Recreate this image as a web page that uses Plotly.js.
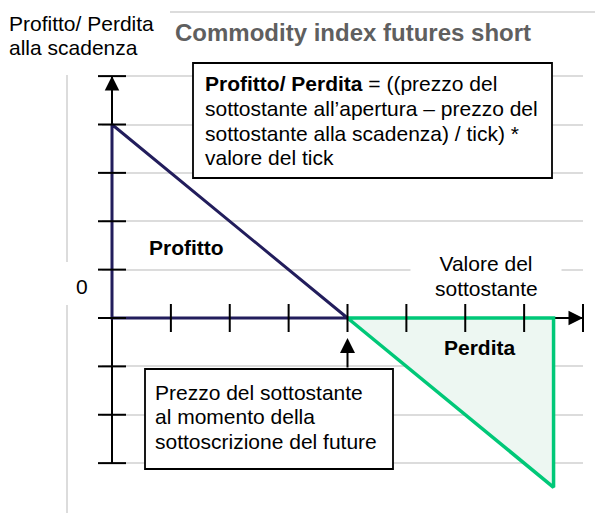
<!DOCTYPE html>
<html>
<head>
<meta charset="utf-8">
<script src="https://cdn.plot.ly/plotly-3.0.1.min.js"></script>
<style>html,body{margin:0;padding:0;background:#fff;}#chart{width:595px;height:513px;}</style>
</head>
<body>
<div id="chart"></div>
<script>
// ---- data ----
const axisX = [0, 8];
const axisY = [-3, 5];
const xTicks = [1, 2, 3, 4, 5, 6, 7, 8];
const yTicks = [-3, -2, -1, 0, 1, 2, 3, 4, 5];
const profitX = [4, 0, 0, 4];
const profitY = [0, 0, 4, 0];
const lossX = [4, 7.5, 7.5, 4];
const lossY = [0, 0, -3.5, 0];
const strikePrice = 4;
const titleText = "Commodity index futures short";
const yTitleLines = ["Profitto/ Perdita", "alla scadenza"];
const xTitleLines = ["Valore del", "sottostante"];
const formulaLines = ["<b>Profitto/ Perdita</b> = ((prezzo del", "sottostante all\u2019apertura \u2013 prezzo del", "sottostante alla scadenza) / tick) *", "valore del tick"];
const strikeLines = ["Prezzo del sottostante", "al momento della", "sottoscrizione del future"];
const profitLabel = "Profitto";
const lossLabel = "Perdita";
const zeroLabel = "0";

// ---- layout geometry ----
const W = 595, H = 513;
const M = {l: 102, r: 12, t: 70, b: 0};
const pw = W - M.l - M.r, ph = H - M.t - M.b;
const xPx0 = 112, xUnit = 58.875, yPx0 = 318, yUnit = 48.375;
const xRange = [(M.l - xPx0) / xUnit, (W - M.r - xPx0) / xUnit];
const yRange = [(yPx0 - (H - M.b)) / yUnit, (yPx0 - M.t) / yUnit];
const px = v => (v - M.l) / pw;
const py = v => (H - M.b - v) / ph;

const FONT = 'Arial, "Liberation Sans", sans-serif';
const black = '#000000';

const traces = [
  {x: [axisX[0], axisX[0]], y: axisY, mode: 'lines', line: {color: black, width: 2}, hoverinfo: 'skip'},
  {x: axisX, y: [0, 0], mode: 'lines', line: {color: black, width: 2}, hoverinfo: 'skip'},
  {x: lossX, y: lossY, mode: 'lines', fill: 'toself', fillcolor: '#EDF7F2', line: {color: '#00C878', width: 3.5}, hoverinfo: 'skip'},
  {x: profitX, y: profitY, mode: 'lines', line: {color: '#221D5C', width: 3}, hoverinfo: 'skip'},
  {x: xTicks, y: xTicks.map(() => 0), mode: 'markers', cliponaxis: false,
   marker: {symbol: 'line-ns', size: 20, line: {color: black, width: 2}}, hoverinfo: 'skip'},
  {x: yTicks.map(() => 0), y: yTicks, mode: 'markers', cliponaxis: false,
   marker: {symbol: 'line-ew', size: 20, line: {color: black, width: 2}}, hoverinfo: 'skip'},
  {x: [axisX[0]], y: [axisY[1]], mode: 'markers', cliponaxis: false,
   marker: {symbol: 'arrow-up', size: 14.5, color: black, line: {width: 0}}, hoverinfo: 'skip'},
  {x: [axisX[1]], y: [0], mode: 'markers', cliponaxis: false,
   marker: {symbol: 'arrow-right', size: 14.5, color: black, line: {width: 0}}, hoverinfo: 'skip'}
];

function txt(text, x, y, opts) {
  return Object.assign({text: text, xref: 'paper', yref: 'paper', x: px(x), y: py(y),
    xanchor: 'left', yanchor: 'middle', showarrow: false,
    font: {family: FONT, size: 21, color: black}}, opts || {});
}

const annotations = [];
annotations.push(txt(titleText, 173, 33, {font: {family: FONT, size: 24, color: '#5F5F5F', weight: 'bold'}, text: '<b>' + titleText + '</b>'}));
annotations.push(txt(yTitleLines[0], 7, 23));
annotations.push(txt(yTitleLines[1], 7, 47));
annotations.push(txt(zeroLabel, 82, 286, {xanchor: 'center'}));
annotations.push(txt(xTitleLines[0], 486, 263, {xanchor: 'center', bgcolor: '#ffffff', width: 148, height: 24}));
annotations.push(txt(xTitleLines[1], 486, 288, {xanchor: 'center'}));
annotations.push(txt('<b>' + profitLabel + '</b>', 147, 247));
annotations.push(txt('<b>' + lossLabel + '</b>', 442, 347));
formulaLines.forEach((t, i) => annotations.push(txt(t, 203, 84 + i * 24.5)));
strikeLines.forEach((t, i) => annotations.push(txt(t, 153, 392 + i * 24.5)));
annotations.push({x: strikePrice, y: 0, xref: 'x', yref: 'y', text: '', showarrow: true,
  ax: 0, ay: 51, arrowhead: 2, arrowsize: 1.5, arrowwidth: 2, arrowcolor: black, standoff: 20});

const shapes = [
  {type: 'line', xref: 'paper', yref: 'paper', x0: px(170), x1: px(595), y0: py(12), y1: py(12), line: {color: '#DCDCDC', width: 2}},
  {type: 'line', xref: 'paper', yref: 'paper', x0: px(67), x1: px(67), y0: py(75), y1: py(262), line: {color: '#DCDCDC', width: 2}},
  {type: 'line', xref: 'paper', yref: 'paper', x0: px(67), x1: px(67), y0: py(305), y1: py(513), line: {color: '#DCDCDC', width: 2}},
  {type: 'rect', xref: 'paper', yref: 'paper', layer: 'above', x0: px(193), x1: px(552), y0: py(63), y1: py(178), fillcolor: '#ffffff', line: {color: black, width: 1.8}},
  {type: 'rect', xref: 'paper', yref: 'paper', layer: 'above', x0: px(145), x1: px(393), y0: py(369), y1: py(469), fillcolor: '#ffffff', line: {color: black, width: 1.8}}
];

const layout = {
  width: W, height: H, margin: M,
  paper_bgcolor: '#ffffff', plot_bgcolor: '#ffffff',
  showlegend: false,
  xaxis: {range: xRange, showgrid: false, zeroline: false, showticklabels: false, ticks: '', showline: false, fixedrange: true},
  yaxis: {range: yRange, tickmode: 'array', tickvals: yTicks, showgrid: true, gridcolor: '#DCDCDC', gridwidth: 2,
          zeroline: false, showticklabels: false, ticks: '', showline: false, fixedrange: true},
  shapes: shapes,
  annotations: annotations,
  font: {family: FONT}
};

Plotly.newPlot('chart', traces, layout, {staticPlot: true, displayModeBar: false});
</script>
</body>
</html>
